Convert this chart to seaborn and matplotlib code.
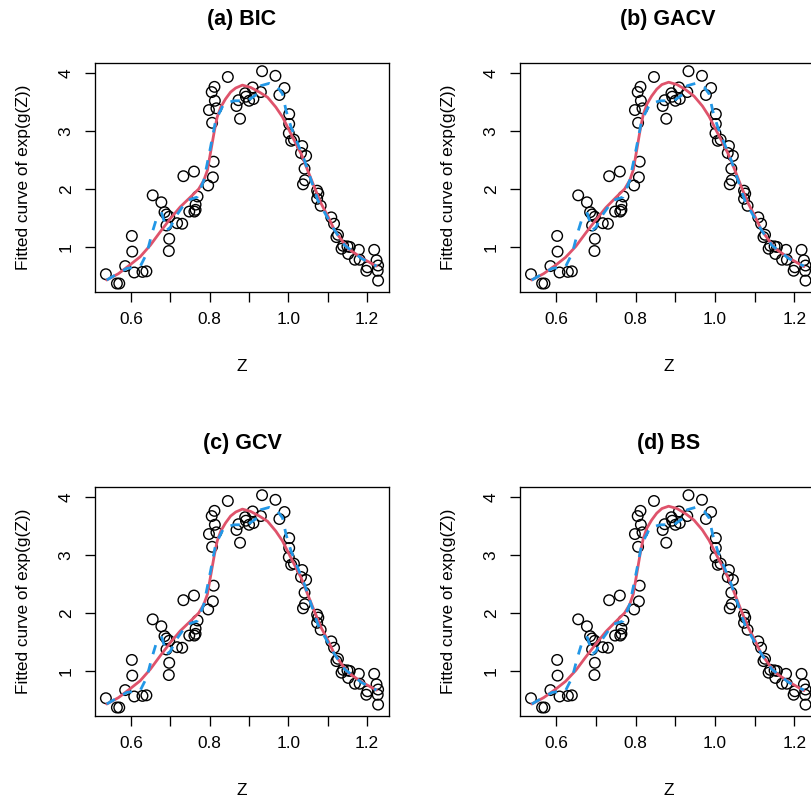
import matplotlib
matplotlib.use("Agg")
import matplotlib.pyplot as plt
import seaborn as sns

# Observed data (Z, response)
z_obs = [0.536, 0.564, 0.570, 0.585, 0.608, 0.629, 0.639, 0.602, 0.603,
         0.655, 0.677, 0.685, 0.690, 0.697, 0.690, 0.717, 0.730, 0.697, 0.696,
         0.733, 0.760, 0.769, 0.764, 0.748, 0.761, 0.764,
         0.796, 0.808, 0.810, 0.806, 0.798, 0.817, 0.813, 0.805, 0.812,
         0.846, 0.868, 0.877, 0.873, 0.890, 0.892, 0.900, 0.911, 0.909, 0.930, 0.933,
         0.967, 0.990, 0.977, 1.002, 1.002, 1.001, 1.007, 1.014, 1.035, 1.045, 1.032,
         1.041, 1.042, 1.037,
         1.073, 1.076, 1.073, 1.082, 1.109, 1.116, 1.126, 1.122, 1.139, 1.150, 1.135,
         1.152, 1.156, 1.179, 1.169, 1.181, 1.198, 1.201, 1.218, 1.224, 1.228, 1.227, 1.228]
y_obs = [0.53, 0.37, 0.37, 0.67, 0.56, 0.57, 0.58, 1.19, 0.92,
         1.89, 1.77, 1.60, 1.56, 1.52, 1.37, 1.41, 1.40, 1.14, 0.93,
         2.22, 2.30, 1.87, 1.73, 1.61, 1.61, 1.64,
         2.06, 2.20, 2.47, 3.14, 3.36, 3.39, 3.52, 3.67, 3.76,
         3.93, 3.43, 3.21, 3.53, 3.65, 3.59, 3.52, 3.55, 3.75, 3.67, 4.03,
         3.95, 3.74, 3.62, 3.29, 3.12, 2.96, 2.83, 2.85, 2.74, 2.57, 2.62,
         2.35, 2.15, 2.08,
         1.97, 1.92, 1.83, 1.71, 1.51, 1.40, 1.21, 1.17, 1.02, 1.01, 0.97,
         0.88, 1.00, 0.95, 0.78, 0.78, 0.59, 0.65, 0.95, 0.77, 0.68, 0.59, 0.42]

# Smooth fitted curves of exp(g(Z)) under each tuning criterion
z_fit = [0.538, 0.568, 0.597, 0.623, 0.649, 0.674, 0.700, 0.725, 0.751, 0.772,
         0.785, 0.794, 0.800, 0.806, 0.812, 0.819, 0.828, 0.840, 0.853, 0.866,
         0.883, 0.904, 0.926, 0.947, 0.968, 0.985, 1.002, 1.019, 1.032, 1.049,
         1.066, 1.083, 1.101, 1.117, 1.135, 1.152, 1.169, 1.194, 1.224]
fit_bic = [0.43, 0.54, 0.69, 0.83, 1.03, 1.26, 1.49, 1.69, 1.86, 2.00,
           2.15, 2.32, 2.55, 2.78, 3.01, 3.24, 3.41, 3.55, 3.67, 3.74,
           3.79, 3.75, 3.67, 3.58, 3.41, 3.24, 3.01, 2.78, 2.61, 2.32,
           2.03, 1.75, 1.52, 1.29, 1.12, 0.97, 0.89, 0.78, 0.67]
fit_gacv = [0.43, 0.54, 0.68, 0.82, 1.01, 1.24, 1.47, 1.68, 1.86, 2.00,
            2.15, 2.33, 2.57, 2.81, 3.05, 3.28, 3.46, 3.60, 3.72, 3.80,
            3.84, 3.80, 3.71, 3.60, 3.43, 3.25, 3.02, 2.80, 2.62, 2.34,
            2.04, 1.76, 1.52, 1.29, 1.12, 0.97, 0.89, 0.78, 0.66]
fit_gcv = fit_bic
fit_bs = fit_gacv
fits = [fit_bic, fit_gacv, fit_gcv, fit_bs]

# Reference (dashed) curve
z_ref = [0.538, 0.589, 0.623, 0.640, 0.653, 0.666, 0.678, 0.691, 0.700, 0.713,
         0.742, 0.768, 0.785, 0.802, 0.815, 0.836, 0.862, 0.896, 0.921, 0.930,
         0.951, 0.973, 0.985, 0.994, 1.007, 1.041, 1.075, 1.117, 1.143, 1.186, 1.224]
y_ref = [0.43, 0.63, 0.66, 0.89, 1.23, 1.52, 1.58, 1.29, 1.34, 1.52,
         1.80, 1.86, 2.15, 2.72, 3.18, 3.47, 3.52, 3.52, 3.64, 3.78,
         3.82, 3.75, 3.64, 3.35, 3.06, 2.49, 1.80, 1.29, 1.03, 0.80, 0.67]

panel_titles = ["(a) BIC", "(b) GACV", "(c) GCV", "(d) BS"]
x_ticks = [0.6, 0.8, 1.0, 1.2]
x_minor = [0.7, 0.9, 1.1]
y_ticks = [1, 2, 3, 4]
x_label = "Z"
y_label = "Fitted curve of exp(g(Z))"

RED = "#DF536B"
BLUE = "#2297E6"

sns.set_theme(style="white")
plt.rcParams["font.family"] = ["Liberation Sans", "DejaVu Sans"]
plt.rcParams["text.color"] = "black"

W, H = 812, 801
fig = plt.figure(figsize=(W / 100, H / 100), dpi=100)

# plot boxes in pixels: left, top, right, bottom
boxes = [(95, 62.7, 389, 292), (520, 62.7, 816.5, 292),
         (95, 486.7, 389, 716), (520, 486.7, 816.5, 716)]

# axis limits with 4% padding around the data range
xlo, xhi = min(z_obs), max(z_obs)
ylo, yhi = min(y_obs), max(y_obs)
xpad = 0.04 * (xhi - xlo)
ypad = 0.04 * (yhi - ylo)

for (l, t, r, b), title, fit in zip(boxes, panel_titles, fits):
    ax = fig.add_axes([l / W, 1 - b / H, (r - l) / W, (b - t) / H])
    sns.scatterplot(x=z_obs, y=y_obs, ax=ax, marker="o", s=58,
                    facecolor="none", edgecolor="black", linewidth=1.0,
                    zorder=2)
    sns.lineplot(x=z_fit, y=fit, ax=ax, color=RED, linewidth=2.0,
                 sort=False, estimator=None, zorder=3)
    sns.lineplot(x=z_ref, y=y_ref, ax=ax, color=BLUE, linewidth=2.0,
                 sort=False, estimator=None, linestyle=(0, (3.4, 3.4)),
                 zorder=4)

    ax.set_xlim(xlo - xpad, xhi + xpad)
    ax.set_ylim(ylo - ypad, yhi + ypad)
    ax.set_xticks(x_ticks)
    ax.set_xticklabels([f"{v:.1f}" for v in x_ticks])
    ax.set_xticks(x_minor, minor=True)
    ax.set_yticks(y_ticks)
    ax.set_yticklabels([str(v) for v in y_ticks])
    ax.set_xlabel("")
    ax.set_ylabel("")
    ax.grid(False)

    for sp in ax.spines.values():
        sp.set_visible(True)
        sp.set_color("black")
        sp.set_linewidth(0.95)
    ax.tick_params(which="both", direction="out", length=7.3, width=0.95,
                   color="black", labelsize=12.4, labelcolor="black",
                   bottom=True, left=True, top=False, right=False)
    ax.tick_params(axis="x", pad=7)
    ax.tick_params(axis="y", pad=8)
    for lab in ax.get_yticklabels():
        lab.set_rotation(90)
        lab.set_verticalalignment("center")

    ax.annotate(title, xy=(0.5, 1), xycoords="axes fraction",
                xytext=(0, 42.7), textcoords="offset pixels",
                ha="center", va="center", fontsize=15.5, fontweight="bold",
                color="black")
    ax.annotate(x_label, xy=(0.5, 0), xycoords="axes fraction",
                xytext=(0, -74.5), textcoords="offset pixels",
                ha="center", va="center", fontsize=12.4, color="black")
    ax.annotate(y_label, xy=(0, 0.5), xycoords="axes fraction",
                xytext=(-71.7, 0), textcoords="offset pixels",
                ha="center", va="center", rotation=90, fontsize=12.4,
                color="black")

fig.savefig("out.png", dpi=100)
